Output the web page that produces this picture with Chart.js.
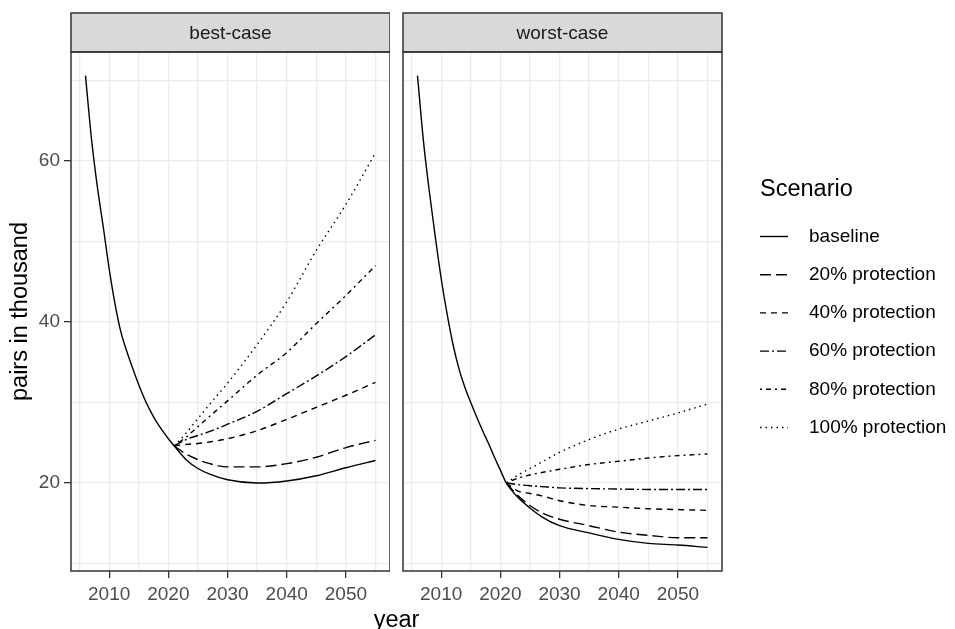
<!DOCTYPE html>
<html>
<head>
<meta charset="utf-8">
<script src="https://cdn.jsdelivr.net/npm/chart.js@4.4.1/dist/chart.umd.min.js"></script>
<style>
  body { margin: 0; background: #fff; width: 955px; height: 629px; position: relative; overflow: hidden;
         font-family: "Liberation Sans", Arial, sans-serif; }
  #best { position: absolute; left: 0; top: 0; }
  #worst { position: absolute; left: 395px; top: 0; }
  #xtitle { position: absolute; top: 606px; left: 0; width: 793px; text-align: center; font-size: 23.5px; color: #000; }
</style>
</head>
<body>
<canvas id="best" width="390" height="629" style="width:390px;height:629px"></canvas>
<canvas id="worst" width="560" height="629" style="width:560px;height:629px"></canvas>
<div id="xtitle">year</div>
<script>
const facetLabels = ["best-case", "worst-case"];
const scenarios = ["baseline", "20% protection", "40% protection", "60% protection", "80% protection", "100% protection"];

// history, shared by the baseline of each facet
const earlyYears = [2006, 2007, 2008, 2009, 2010, 2011, 2012, 2013, 2014, 2015, 2016, 2017, 2018, 2019, 2020, 2021];
// projections
const lateYears = [2021, 2023, 2025, 2027, 2030, 2035, 2040, 2045, 2050, 2055];

const bestEarly = [70.6, 62.8, 56.8, 51.8, 46.6, 42.2, 38.7, 36.3, 34.2, 32.2, 30.4, 28.9, 27.6, 26.5, 25.5, 24.6];
const bestBaseline = [24.6, 22.9, 21.8, 21.1, 20.4, 20.0, 20.25, 20.9, 21.9, 22.8];
const best20 = [24.6, 23.6, 22.9, 22.4, 22.0, 22.0, 22.4, 23.2, 24.4, 25.3];
const best40 = [24.6, 24.8, 24.9, 25.1, 25.5, 26.5, 27.9, 29.4, 30.9, 32.5];
const best60 = [24.6, 25.4, 25.9, 26.4, 27.3, 28.9, 31.1, 33.3, 35.7, 38.4];
const best80 = [24.6, 25.7, 27.0, 28.3, 30.2, 33.4, 36.2, 39.8, 43.3, 47.0];
const best100 = [24.6, 26.2, 28.0, 29.8, 32.4, 37.2, 42.5, 48.9, 54.6, 61.0];

const worstEarly = [70.6, 62.5, 56.2, 50.6, 45.4, 41.0, 37.2, 34.2, 31.9, 30.0, 28.2, 26.5, 24.9, 23.2, 21.6, 20.0];
const worstBaseline = [20.0, 18.2, 16.9, 15.8, 14.7, 13.8, 13.0, 12.5, 12.3, 12.0];
const worst20 = [20.0, 18.4, 17.2, 16.3, 15.5, 14.7, 13.9, 13.5, 13.2, 13.2];
const worst40 = [20.0, 19.0, 18.7, 18.4, 17.8, 17.2, 17.0, 16.8, 16.7, 16.6];
const worst60 = [20.0, 19.8, 19.65, 19.55, 19.4, 19.3, 19.25, 19.2, 19.2, 19.2];
const worst80 = [20.0, 20.6, 21.0, 21.3, 21.7, 22.3, 22.7, 23.1, 23.4, 23.6];
const worst100 = [20.0, 21.0, 21.8, 22.6, 23.8, 25.4, 26.7, 27.7, 28.7, 29.8];

const xGrid = [2005, 2010, 2015, 2020, 2025, 2030, 2035, 2040, 2045, 2050, 2055];
const xLabels = [2010, 2020, 2030, 2040, 2050];
const yGrid = [10, 20, 30, 40, 50, 60, 70];
const yLabels = [20, 40, 60];

const dashes = [[], [11, 5], [6, 5], [9, 3, 2, 3], [2, 4, 5, 4], [1.5, 4]];

// ggplot-like 5% expansion of the data range
const allY = [].concat(bestEarly, bestBaseline, best20, best40, best60, best80, best100,
  worstEarly, worstBaseline, worst20, worst40, worst60, worst80, worst100);
const yMin = Math.min(...allY), yMax = Math.max(...allY);
const yLo = yMin - (yMax - yMin) * 0.05, yHi = yMax + (yMax - yMin) * 0.05;
const xFirst = earlyYears[0], xLast = lateYears[lateYears.length - 1];
const xLo = xFirst - (xLast - xFirst) * 0.05, xHi = xLast + (xLast - xFirst) * 0.05;

function makeDatasets(early, late) {
  return scenarios.map((name, i) => {
    let pts;
    if (i === 0) {
      pts = earlyYears.map((x, k) => ({ x: x, y: early[k] }))
        .concat(lateYears.slice(1).map((x, k) => ({ x: x, y: late[0][k + 1] })));
    } else {
      pts = lateYears.map((x, k) => ({ x: x, y: late[i][k] }));
    }
    return {
      label: name,
      data: pts,
      borderColor: "#000",
      borderWidth: 1.4,
      borderDash: dashes[i],
      pointRadius: 0,
      fill: false,
      cubicInterpolationMode: "monotone"
    };
  });
}

const tickFont = { family: "Liberation Sans", size: 19 };

const panelFrame = {
  id: "panelFrame",
  afterDraw(chart, args, opts) {
    const { ctx, chartArea: a } = chart;
    const stripTop = 13;
    ctx.save();
    ctx.fillStyle = "#D9D9D9";
    ctx.fillRect(a.left, stripTop, a.right - a.left, a.top - stripTop);
    ctx.strokeStyle = "#333333";
    ctx.lineWidth = 1.5;
    ctx.strokeRect(a.left, stripTop, a.right - a.left, a.top - stripTop);
    ctx.strokeRect(a.left, a.top, a.right - a.left, a.bottom - a.top);
    ctx.fillStyle = "#1A1A1A";
    ctx.font = '19px "Liberation Sans"';
    ctx.textAlign = "center";
    ctx.textBaseline = "middle";
    ctx.fillText(opts.label, (a.left + a.right) / 2, (stripTop + a.top) / 2 + 1);
    ctx.restore();
  }
};

const scenarioLegend = {
  id: "scenarioLegend",
  afterDraw(chart, args, opts) {
    if (!opts.show) return;
    const ctx = chart.ctx;
    const x0 = chart.chartArea.right + 38;
    ctx.save();
    ctx.fillStyle = "#000";
    ctx.textAlign = "left";
    ctx.textBaseline = "middle";
    ctx.font = '23.5px "Liberation Sans"';
    ctx.fillText(opts.title, x0, 190);
    ctx.font = '19px "Liberation Sans"';
    chart.data.datasets.forEach((ds, i) => {
      const y = 236.5 + i * 38.2;
      ctx.strokeStyle = ds.borderColor;
      ctx.lineWidth = ds.borderWidth;
      ctx.setLineDash(ds.borderDash);
      ctx.beginPath();
      ctx.moveTo(x0, y);
      ctx.lineTo(x0 + 28, y);
      ctx.stroke();
      ctx.setLineDash([]);
      ctx.fillStyle = "#000";
      ctx.fillText(ds.label, x0 + 49, y);
    });
    ctx.restore();
  }
};

function makeChart(id, facet, early, late, isLeft) {
  return new Chart(document.getElementById(id), {
    type: "line",
    data: { datasets: makeDatasets(early, late) },
    plugins: [panelFrame, scenarioLegend],
    options: {
      responsive: false,
      animation: false,
      events: [],
      layout: { padding: { top: 52, left: 0, bottom: 0, right: isLeft ? 0 : 233 } },
      plugins: {
        legend: { display: false },
        tooltip: { enabled: false },
        panelFrame: { label: facet },
        scenarioLegend: { show: !isLeft, title: "Scenario" }
      },
      scales: {
        x: {
          type: "linear",
          min: xLo,
          max: xHi,
          afterBuildTicks: (s) => { s.ticks = xGrid.map(v => ({ value: v })); },
          afterFit: (s) => { s.height = 58; },
          border: { display: false },
          grid: {
            color: "#EBEBEB",
            lineWidth: 1.3,
            tickLength: 7,
            tickWidth: 1.3,
            tickColor: (c) => xLabels.includes(c.tick && c.tick.value) ? "#333333" : "rgba(0,0,0,0)"
          },
          ticks: {
            font: tickFont,
            color: "#4D4D4D",
            padding: 5,
            maxRotation: 0,
            autoSkip: false,
            callback: (v) => xLabels.includes(v) ? String(v) : ""
          }
        },
        y: {
          type: "linear",
          min: yLo,
          max: yHi,
          afterBuildTicks: (s) => { s.ticks = yGrid.map(v => ({ value: v })); },
          afterFit: (s) => { s.width = isLeft ? 71 : 8; },
          border: { display: false },
          title: {
            display: isLeft,
            text: "pairs in thousand",
            color: "#000",
            font: { family: "Liberation Sans", size: 23.5 },
            padding: { top: 6, bottom: 0 }
          },
          grid: {
            color: "#EBEBEB",
            lineWidth: 1.3,
            drawTicks: isLeft,
            tickLength: 7,
            tickWidth: 1.3,
            tickColor: (c) => yLabels.includes(c.tick && c.tick.value) ? "#333333" : "rgba(0,0,0,0)"
          },
          ticks: {
            display: isLeft,
            font: tickFont,
            color: "#4D4D4D",
            padding: 4,
            autoSkip: false,
            callback: (v) => yLabels.includes(v) ? String(v) : ""
          }
        }
      }
    }
  });
}

makeChart("best", facetLabels[0], bestEarly,
  [bestBaseline, best20, best40, best60, best80, best100], true);
makeChart("worst", facetLabels[1], worstEarly,
  [worstBaseline, worst20, worst40, worst60, worst80, worst100], false);
</script>
</body>
</html>
